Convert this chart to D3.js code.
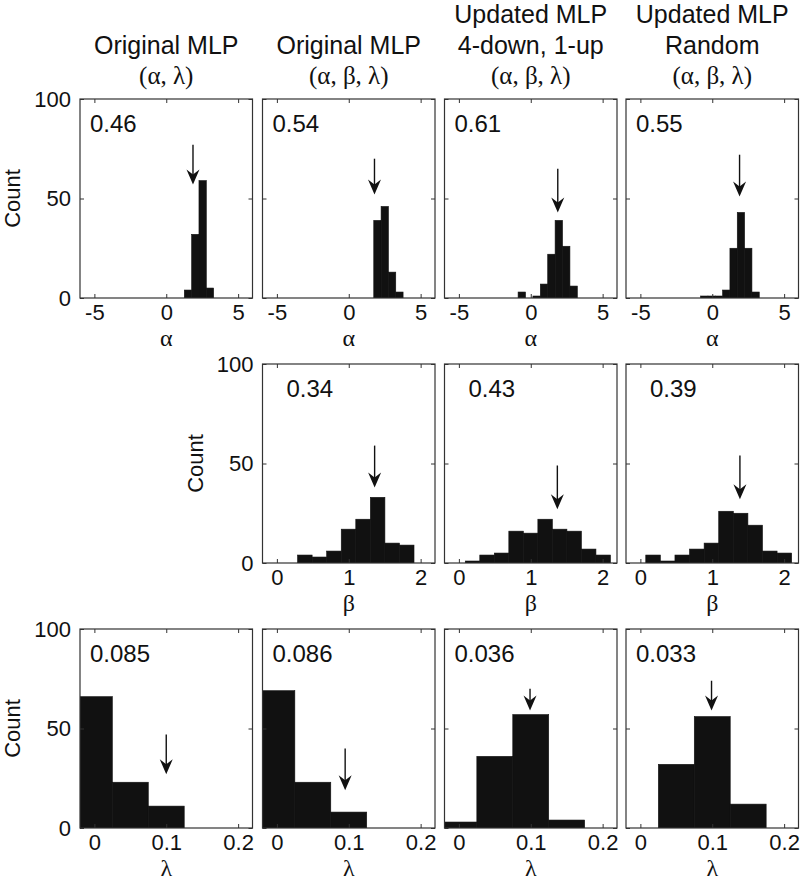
<!DOCTYPE html>
<html><head><meta charset="utf-8">
<script src="https://cdn.jsdelivr.net/npm/d3@7"></script>
<style>body{margin:0;background:#fff}svg{display:block}</style>
</head><body><svg id="c" width="800" height="881"></svg>
<script>
// ---- data ----
const titleLine1 = ["", "", "Updated MLP", "Updated MLP"];
const titleLine2 = ["Original MLP", "Original MLP", "4-down, 1-up", "Random"];
const titleLine3 = ["(α, λ)", "(α, β, λ)", "(α, β, λ)", "(α, β, λ)"];

const yTicks = [0, 50, 100];
const alphaTicks = [-5, 0, 5];
const betaTicks = [0, 1, 2];
const lambdaTicks = [0, 0.1, 0.2];

const alphaBinStart = [1.256, 1.74, -0.88, -0.81];
const alphaBinWidth = [0.51, 0.51, 0.515, 0.51];
const alphaCounts = [
  [4, 32, 59, 5],
  [39, 46, 13, 3],
  [3, 0, 1, 7, 22, 39, 26, 6],
  [1, 1, 1, 4, 25, 43, 25, 3]
];
const alphaStats = ["0.46", "0.54", "0.61", "0.55"];
const alphaArrowX = [1.86, 1.79, 1.88, 1.9];
const alphaArrowTop = [77, 70, 65, 72];
const alphaArrowTip = [57, 52, 43, 51];

const betaBinStart = [0.288, 0.089, 0.075];
const betaBinWidth = [0.2025, 0.202, 0.203];
const betaCounts = [
  [4, 3, 6, 17, 22, 33, 10, 9],
  [1, 4, 5, 16, 15, 22, 17, 16, 7, 4],
  [4, 1, 4, 7, 10, 26, 25, 19, 6, 5]
];
const betaStats = ["0.34", "0.43", "0.39"];
const betaArrowX = [1.36, 1.37, 1.385];
const betaArrowTop = [59, 49, 54];
const betaArrowTip = [38, 27, 32];

const lambdaBinCenters = [0, 0.05, 0.1, 0.15, 0.2];
const lambdaBinWidth = 0.05;
const lambdaCounts = [
  [66, 23, 11, 0, 0],
  [69, 23, 8, 0, 0],
  [3, 36, 57, 4, 0],
  [0, 32, 56, 12, 0]
];
const lambdaStats = ["0.085", "0.086", "0.036", "0.033"];
const lambdaArrowX = [0.1, 0.095, 0.099, 0.099];
const lambdaArrowTop = [47, 40, 70, 74];
const lambdaArrowTip = [27, 19, 59, 59];

// ---- layout ----
const colX = [80, 262.5, 444.5, 626];
const rowY = [99, 364, 629];
const W = 172.5, H = 199;
const sans = "'Liberation Sans', Arial, Helvetica, sans-serif";
const serif = "'Liberation Serif', 'Times New Roman', serif";
const axisColor = "#333";
const ink = "#111";

const svg = d3.select("#c");

// titles
colX.forEach((x0, i) => {
  const cx = x0 + W / 2;
  const g = svg.append("g").attr("fill", ink);
  if (titleLine1[i]) g.append("text").attr("x", cx).attr("y", 23).attr("text-anchor", "middle")
    .attr("font-family", sans).attr("font-size", 25).text(titleLine1[i]);
  g.append("text").attr("x", cx).attr("y", 54).attr("text-anchor", "middle")
    .attr("font-family", sans).attr("font-size", 25).text(titleLine2[i]);
  g.append("text").attr("x", cx).attr("y", 84).attr("text-anchor", "middle")
    .attr("font-family", serif).attr("font-size", 25).text(titleLine3[i]);
});

let clipId = 0;
function panel(x0, y0, domain, ticks, xLabel, bins, stat, statDx, arrowX, arrowTop, arrowTip, showY) {
  const x = d3.scaleLinear().domain(domain).range([x0, x0 + W]);
  const y = d3.scaleLinear().domain([0, 100]).range([y0 + H, y0]);
  const g = svg.append("g");
  const id = "clip" + (clipId++);
  g.append("clipPath").attr("id", id).append("rect")
    .attr("x", x0).attr("y", y0).attr("width", W).attr("height", H);

  // bars
  g.append("g").attr("clip-path", `url(#${id})`).selectAll("rect").data(bins.filter(b => b.c > 0)).join("rect")
    .attr("x", d => x(d.x0)).attr("width", d => x(d.x1) - x(d.x0))
    .attr("y", d => y(d.c)).attr("height", d => y(0) - y(d.c))
    .attr("fill", ink).attr("stroke", ink).attr("stroke-width", 0.6);

  // axes with inside ticks
  const ax = (axisGen, tx, ty) => {
    const a = g.append("g").attr("transform", `translate(${tx},${ty})`).call(axisGen);
    a.select(".domain").remove();
    a.selectAll("line").attr("stroke", axisColor);
    return a;
  };
  const b = ax(d3.axisBottom(x).tickValues(ticks).tickSize(-4).tickPadding(6).tickFormat(d => String(d)), 0, y0 + H);
  b.selectAll("text").attr("font-family", sans).attr("font-size", 22).attr("fill", ink);
  ax(d3.axisTop(x).tickValues(ticks).tickSize(-4).tickFormat(""), 0, y0);
  const l = ax(d3.axisLeft(y).tickValues(yTicks).tickSize(-4).tickPadding(9), x0, 0);
  l.selectAll("text").attr("font-family", sans).attr("font-size", 22).attr("fill", ink);
  if (!showY) l.selectAll("text").remove();
  ax(d3.axisRight(y).tickValues(yTicks).tickSize(-4).tickFormat(""), x0 + W, 0);

  g.append("rect").attr("x", x0).attr("y", y0).attr("width", W).attr("height", H)
    .attr("fill", "none").attr("stroke", axisColor).attr("stroke-width", 1.2);

  if (showY) {
    g.append("text").attr("transform", `translate(${x0 - 60},${y0 + H / 2}) rotate(-90)`)
      .attr("text-anchor", "middle").attr("font-family", sans).attr("font-size", 22)
      .attr("fill", ink).text("Count");
  }
  g.append("text").attr("x", x0 + W / 2).attr("y", y0 + H + 48).attr("text-anchor", "middle")
    .attr("font-family", serif).attr("font-size", 24).attr("fill", ink).text(xLabel);

  g.append("text").attr("x", x0 + statDx).attr("y", y0 + 32.5).attr("font-family", sans)
    .attr("font-size", 24).attr("fill", ink).text(stat);

  // arrow
  const ax0 = x(arrowX), yt = y(arrowTip), ytop = y(arrowTop);
  g.append("line").attr("x1", ax0).attr("x2", ax0).attr("y1", ytop).attr("y2", yt - 6)
    .attr("stroke", ink).attr("stroke-width", 1.4);
  g.append("path").attr("d", `M${ax0},${yt} L${ax0 - 6.5},${yt - 15} L${ax0},${yt - 10} L${ax0 + 6.5},${yt - 15} Z`)
    .attr("fill", ink);
}

// row 1: alpha
colX.forEach((x0, i) => {
  const bins = alphaCounts[i].map((c, k) => ({ x0: alphaBinStart[i] + k * alphaBinWidth[i], x1: alphaBinStart[i] + (k + 1) * alphaBinWidth[i], c }));
  panel(x0, rowY[0], [-6, 6], alphaTicks, "α", bins, alphaStats[i], 10,
    alphaArrowX[i], alphaArrowTop[i], alphaArrowTip[i], i === 0);
});
// row 2: beta (columns 2-4)
[1, 2, 3].forEach((ci, i) => {
  const bins = betaCounts[i].map((c, k) => ({ x0: betaBinStart[i] + k * betaBinWidth[i], x1: betaBinStart[i] + (k + 1) * betaBinWidth[i], c }));
  panel(colX[ci], rowY[1], [-0.2, 2.2], betaTicks, "β", bins, betaStats[i], 24,
    betaArrowX[i], betaArrowTop[i], betaArrowTip[i], i === 0);
});
// row 3: lambda
colX.forEach((x0, i) => {
  const bins = lambdaCounts[i].map((c, k) => ({ x0: lambdaBinCenters[k] - lambdaBinWidth / 2, x1: lambdaBinCenters[k] + lambdaBinWidth / 2, c }));
  panel(x0, rowY[2], [-0.02, 0.22], lambdaTicks, "λ", bins, lambdaStats[i], 10,
    lambdaArrowX[i], lambdaArrowTop[i], lambdaArrowTip[i], i === 0);
});
</script></body></html>
